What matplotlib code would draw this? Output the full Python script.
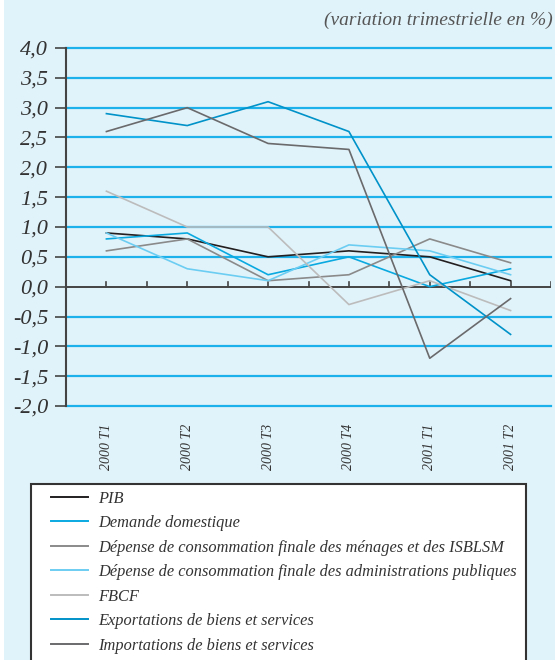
import matplotlib.pyplot as plt
from matplotlib.patches import Rectangle
from matplotlib.lines import Line2D

quarters = ["2000 T1", "2000 T2", "2000 T3", "2000 T4", "2001 T1", "2001 T2"]
pib = [0.9, 0.8, 0.5, 0.6, 0.5, 0.1]
demande = [0.8, 0.9, 0.2, 0.5, 0.0, 0.3]
menages = [0.6, 0.8, 0.1, 0.2, 0.8, 0.4]
apu = [0.9, 0.3, 0.1, 0.7, 0.6, 0.2]
fbcf = [1.6, 1.0, 1.0, -0.3, 0.1, -0.4]
exports = [2.9, 2.7, 3.1, 2.6, 0.2, -0.8]
imports = [2.6, 3.0, 2.4, 2.3, -1.2, -0.2]

labels = ["PIB", "Demande domestique",
          "Dépense de consommation finale des ménages et des ISBLSM",
          "Dépense de consommation finale des administrations publiques",
          "FBCF", "Exportations de biens et services",
          "Importations de biens et services"]
colors = ["#231f20", "#0aa9e0", "#8a8a8a", "#6ccdf2", "#bcbcbc", "#0092c8", "#6a6a6c"]
series = [pib, demande, menages, apu, fbcf, exports, imports]

plt.rcParams['font.family'] = ['Liberation Serif', 'DejaVu Serif']
plt.rcParams['font.style'] = 'italic'

bg = "#e1f3fa"
fig = plt.figure(figsize=(5.55, 6.6), dpi=100, facecolor=bg)
# thin white strip on the left edge
fig.patches.append(Rectangle((0, 0), 4 / 555, 1, transform=fig.transFigure,
                             facecolor="white", edgecolor="none"))
ax = fig.add_axes([66 / 555, 1 - 406 / 660, (551 - 66) / 555, (406 - 48) / 660])
ax.set_facecolor(bg)

x = list(range(len(quarters)))
for s, c in zip(series, colors):
    ax.plot(x, s, color=c, lw=1.2, zorder=3)

ax.set_xlim(-0.5, 5.5)
ax.set_ylim(-2, 4)
yt = [-2 + 0.5 * i for i in range(13)]
ax.set_yticks(yt)
ax.set_yticklabels([f"{v:.1f}".replace(".", ",") for v in yt], fontsize=16, color="#333333")
for v in yt:
    if v != 0:
        ax.axhline(v, color="#1cb1ea", lw=1.6, zorder=1, clip_on=False)
ax.tick_params(axis='y', length=8, width=1.2, color="#444444", pad=5)

for sp in ["top", "right", "bottom"]:
    ax.spines[sp].set_visible(False)
ax.spines["left"].set_color("#444444")
ax.spines["left"].set_linewidth(1.5)
ax.axhline(0, color="#444444", lw=1.4, zorder=2)
# small ticks on the zero line
ax.set_xticks([])
for i in range(12):
    ax.plot([i * 0.5, i * 0.5], [0, 0.07], color="#444444", lw=1.2, zorder=2)

for xi, q in zip(x, quarters):
    ax.text(xi, -2.3, q, rotation=90, ha="center", va="top", fontsize=10, color="#333333")

fig.text(553 / 555, 1 - 20 / 660, "(variation trimestrielle en %)", ha="right", va="center",
         fontsize=14, color="#555555")

fig.patches.append(Rectangle((31 / 555, -0.05), (526 - 31) / 555, 0.05 + 1 - 484 / 660,
                             transform=fig.transFigure, facecolor="white",
                             edgecolor="#333333", lw=1.5))
handles = [Line2D([], [], color=c, lw=1.4) for c in colors]
fig.legend(handles, labels, loc="upper left", bbox_to_anchor=(44 / 555, 1 - 484 / 660),
           frameon=False, fontsize=11.8, handlelength=2.3, handletextpad=0.6,
           labelspacing=0.52, borderaxespad=0, labelcolor="#333333")

fig.savefig("out.png", dpi=100, facecolor=bg)
